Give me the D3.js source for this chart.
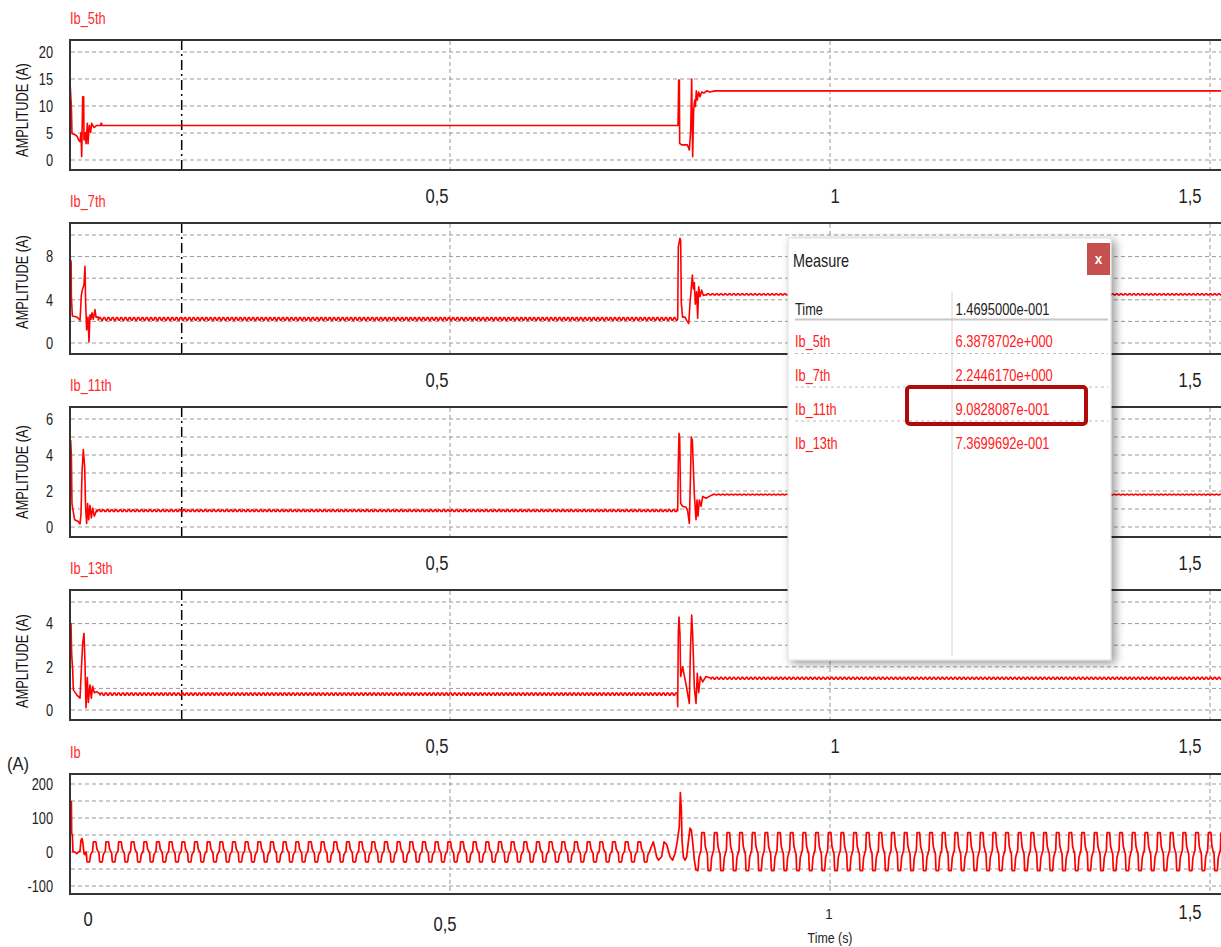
<!DOCTYPE html>
<html><head><meta charset="utf-8">
<script src="https://cdn.jsdelivr.net/npm/d3@7"></script>
<style>
body{margin:0;background:#fff;overflow:hidden}
svg{display:block;font-family:"Liberation Sans",Arial,sans-serif}
</style></head>
<body><svg id="c" width="1221" height="947"></svg>
<script>
// ---------------- DATA ----------------
const panelNames = ["Ib_5th", "Ib_7th", "Ib_11th", "Ib_13th", "Ib"];
const xTickValues = [0.5, 1, 1.5];
const xTickLabels = ["0,5", "1", "1,5"];
const bottomTickValues = [0, 0.5, 1, 1.5];
const bottomTickLabels = ["0", "0,5", "1", "1,5"];
const xAxisTitle = "Time (s)";
const yAxisTitle = "AMPLITUDE (A)";
const ibUnit = "(A)";

const yTickLabels5th = [0, 5, 10, 15, 20];
const yGrid5th = [0, 5, 10, 15, 20];
const yTickLabels7th = [0, 4, 8];
const yGrid7th = [0, 2, 4, 6, 8, 10];
const yTickLabels11th = [0, 2, 4, 6];
const yGrid11th = [0, 1, 2, 3, 4, 5, 6];
const yTickLabels13th = [0, 2, 4];
const yGrid13th = [0, 1, 2, 3, 4, 5];
const yTickLabelsIb = [-100, 0, 100, 200];
const yGridIb = [-100, -50, 0, 50, 100, 150, 200];

// harmonic amplitude traces: [time s, amplitude A]
const h5Start = [[0,0],[0.0004,13.5],[0.0013,11.1],[0.0018,10.0],[0.0026,4.9],[0.0079,4.6],[0.0096,4.3],[0.0114,3.7],[0.0132,3.4],[0.0145,5.1],[0.0154,0.6],[0.0167,11.7],[0.018,11.7],[0.0184,3.7],[0.0202,5.1],[0.0211,3.0],[0.0228,6.8],[0.0237,3.0],[0.0254,6.4],[0.0272,5.1],[0.0285,6.8],[0.0316,6.0],[0.0351,6.4],[0.0405,6.4],[0.0408,6.8],[0.0417,6.8],[0.042,6.39]];
const h5Step = [[0.8,6.39],[0.8009,14.8],[0.8018,14.8],[0.8022,3.1],[0.8048,2.8],[0.8123,2.8],[0.8149,1.85],[0.8167,5.5],[0.818,15],[0.8193,0.6],[0.8206,9.3],[0.822,11.1],[0.823,9.9],[0.8241,12.8],[0.8254,11.1],[0.8272,12.6],[0.829,11.7],[0.8312,12.6],[0.8342,12.4],[0.8377,12.8],[0.842,12.6],[0.8485,12.8]];
const h7Start = [[0,0],[0.0002,7.8],[0.0015,7.5],[0.0018,4.3],[0.0031,2.5],[0.0092,2.4],[0.0132,2.1],[0.0149,4.4],[0.0162,4.9],[0.0184,5.4],[0.0197,7.1],[0.0206,3.7],[0.0219,1.2],[0.0237,2.4],[0.025,0.1],[0.0263,2.6],[0.0276,2.2],[0.0289,2.8],[0.0307,2.2],[0.0329,3.1],[0.0342,2.4],[0.0373,2.4]];
const h7Step = [[0.7996,2.2],[0.8004,8.9],[0.8026,9.7],[0.8035,9.5],[0.8044,3.7],[0.806,2.4],[0.8092,2.4],[0.8114,2.1],[0.8141,1.8],[0.8158,3.7],[0.8171,4.75],[0.8189,6.3],[0.8202,5.0],[0.8215,5.6],[0.8228,3.6],[0.8246,4.75],[0.8259,2.3],[0.8272,5.2],[0.829,4.3],[0.8311,4.9],[0.8333,4.4],[0.8377,4.5]];
const h11Start = [[0,0],[0.0009,4.8],[0.0018,4.0],[0.0026,1.3],[0.0035,1.05],[0.0061,0.4],[0.011,0.3],[0.0132,0.17],[0.0145,0.76],[0.0158,3.0],[0.0175,4.3],[0.0193,3.35],[0.0206,1.0],[0.0219,0.2],[0.0232,1.3],[0.0246,0.4],[0.0263,1.2],[0.0281,0.5],[0.0298,1.05],[0.032,0.6],[0.0351,0.94],[0.036,0.91]];
const h11Step = [[0.7996,0.9],[0.8004,3.5],[0.8013,5.2],[0.8022,5.0],[0.8035,1.3],[0.8061,1.15],[0.8105,1.1],[0.8127,0.9],[0.8149,0.2],[0.8162,2.4],[0.8175,5.0],[0.8189,4.8],[0.8202,3.3],[0.8215,1.8],[0.8237,0.4],[0.825,1.5],[0.8263,0.6],[0.8281,1.5],[0.8303,1.15],[0.8325,1.7],[0.8368,1.6],[0.8456,1.8]];
const h13Start = [[0,0],[0.0004,3.4],[0.0013,4.0],[0.0022,2.6],[0.0035,1.85],[0.0044,0.93],[0.0088,0.7],[0.0132,0.55],[0.0149,1.85],[0.0167,3.1],[0.0184,3.55],[0.0197,2.2],[0.0211,0.1],[0.0228,1.5],[0.0241,0.35],[0.0263,1.16],[0.0281,0.55],[0.0298,1.1],[0.032,0.8],[0.0351,0.85],[0.0395,0.74]];
const h13Step = [[0.7991,0.74],[0.7996,0.15],[0.8004,3.55],[0.8013,4.3],[0.8026,3.5],[0.8035,1.55],[0.8061,2.0],[0.8105,1.2],[0.8127,0.75],[0.8149,0.3],[0.8162,2.6],[0.818,4.4],[0.8193,3.5],[0.8215,1.0],[0.8237,0.3],[0.8254,1.7],[0.8272,0.8],[0.8294,1.55],[0.8325,1.3],[0.8368,1.55],[0.8434,1.47]];

// steady levels before / after the step at 0.8 s, and ripple amplitude
const steadyBefore = [6.39, 2.24, 0.91, 0.74];
const steadyAfter = [12.8, 4.5, 1.8, 1.47];
const rippleBefore = [0, 0.12, 0.05, 0.05];
const rippleAfter = [0, 0.06, 0.02, 0.04];
const rippleShape = [-1, 1, 1, -1];
const ripplePeriod = 0.0056;

// phase current Ib
const ibStart = [[0,0],[0.0004,148],[0.0013,118],[0.0018,148],[0.0022,55],[0.0031,50],[0.0039,0],[0.0066,0],[0.0088,-5],[0.011,0],[0.0132,3],[0.0145,35],[0.0158,40],[0.0171,25],[0.0184,-5],[0.0197,-8]];
const ibStep = [[0.7632,6],[0.7675,30],[0.7719,-14],[0.7741,-24],[0.7785,-14],[0.7816,30],[0.7851,22],[0.7895,-14],[0.7929,-24],[0.796,-5],[0.799,30],[0.8017,75],[0.8031,175],[0.8044,124],[0.8053,35],[0.807,-14],[0.8092,-24],[0.8114,-14],[0.8136,30],[0.8158,70],[0.8175,65],[0.8193,30],[0.8215,-24],[0.8237,-53]];
// one measured cycle of Ib (phase 0..1, normalised)
const ibCycleShape = [[0,0],[0.03,0.15],[0.07,0.9],[0.09,1],[0.28,1],[0.31,0.8],[0.36,0.3],[0.42,0.15],[0.47,0],[0.50,0],[0.53,-0.15],[0.57,-0.9],[0.59,-1],[0.78,-1],[0.81,-0.8],[0.86,-0.3],[0.92,-0.15],[0.97,0]];
const ibPeriod = 1 / 60;
const ibBefore = {origin: 0.0127, from: 0.0200, to: 0.7630, hi: 30, lo: -29};
const ibAfter = {origin: 0.8132, from: 0.8240, to: 1.52, hi: 57, lo: -55};

// measure window
const cursorTime = 0.14695;
const measureTitle = "Measure";
const measureTimeLabel = "Time";
const measureTimeValue = "1.4695000e-001";
const measureNames = ["Ib_5th", "Ib_7th", "Ib_11th", "Ib_13th"];
const measureValues = ["6.3878702e+000", "2.2446170e+000", "9.0828087e-001", "7.3699692e-001"];
const highlightRow = 2;

// ---------------- LAYOUT ----------------
const frames = [[40,170],[223,354],[407,537],[590,720],[774,894]];
const yDomains = [[-1.852,22.222],[-1.019,11.111],[-0.556,6.667],[-0.463,5.556],[-123.5,229.4]];
const yTickSets = [yTickLabels5th, yTickLabels7th, yTickLabels11th, yTickLabels13th, yTickLabelsIb];
const yGridSets = [yGrid5th, yGrid7th, yGrid11th, yGrid13th, yGridIb];
const ampLabelY = [110, 282, 472, 661];
const xLabelOffset = [-13, 5, -20];
const RED = "#ff0000";

const svg = d3.select("#c");
const x = d3.scaleLinear().domain([0, 1.5]).range([70, 1210]);
const xMax = x.invert(1230);

function T(sel, px, py, str, o = {}) {
  const t = sel.append("text")
    .attr("transform", `translate(${px},${py})${o.rot ? ` rotate(${o.rot})` : ""} scale(${o.sx ?? 0.8},1)`)
    .attr("font-size", o.size || 16)
    .attr("fill", o.fill || "#222")
    .attr("text-anchor", o.anchor || "start")
    .text(str);
  if (o.weight) t.attr("font-weight", o.weight);
  return t;
}

function steady(tFrom, tTo, level, amp) {
  const pts = [];
  const dt = ripplePeriod / rippleShape.length;
  for (let k = 0; tFrom + k * dt <= tTo; k++)
    pts.push([tFrom + k * dt, level + amp * rippleShape[k % rippleShape.length]]);
  pts.push([tTo, level]);
  return pts;
}

function repeatCycle(p) {
  const pts = [];
  let k = Math.floor((p.from - p.origin) / ibPeriod);
  while (true) {
    for (const [ph, v] of ibCycleShape) {
      const t = p.origin + (k + ph) * ibPeriod;
      if (t < p.from) continue;
      if (t > p.to) return pts;
      pts.push([t, v >= 0 ? v * p.hi : v * (-p.lo)]);
    }
    k++;
  }
}

const starts = [h5Start, h7Start, h11Start, h13Start];
const steps = [h5Step, h7Step, h11Step, h13Step];
const series = starts.map((s, i) => {
  const a = s[s.length - 1][0], b = steps[i][0][0];
  const c = steps[i][steps[i].length - 1][0];
  return s.concat(steady(a, b, steadyBefore[i], rippleBefore[i]), steps[i], steady(c, xMax, steadyAfter[i], rippleAfter[i]));
});
series.push(ibStart.concat(repeatCycle(ibBefore), ibStep, repeatCycle(ibAfter)));

const defs = svg.append("defs");
const sh = defs.append("filter").attr("id", "shadow").attr("x", "-10%").attr("y", "-10%").attr("width", "130%").attr("height", "130%");
sh.append("feDropShadow").attr("dx", 4).attr("dy", 3).attr("stdDeviation", 5).attr("flood-color", "#000").attr("flood-opacity", 0.4);

frames.forEach(([top, bot], i) => {
  const y = d3.scaleLinear().domain(yDomains[i]).range([bot, top]);
  const g = svg.append("g");
  defs.append("clipPath").attr("id", "clip" + i).append("rect")
    .attr("x", 70).attr("y", top).attr("width", 1160).attr("height", bot - top);

  // horizontal grid
  g.selectAll("line.hg").data(yGridSets[i]).join("line")
    .attr("x1", 71).attr("x2", 1230).attr("y1", d => y(d)).attr("y2", d => y(d))
    .attr("stroke", "#9a9a9a").attr("stroke-width", 1).attr("stroke-dasharray", "4,3");
  // vertical grid
  g.selectAll("line.vg").data(xTickValues).join("line")
    .attr("x1", d => x(d)).attr("x2", d => x(d)).attr("y1", top + 1).attr("y2", bot - 1)
    .attr("stroke", "#9a9a9a").attr("stroke-width", 1).attr("stroke-dasharray", "4,3");
  // cursor
  if (i < 4) {
    g.append("line").attr("x1", x(cursorTime)).attr("x2", x(cursorTime)).attr("y1", top).attr("y2", bot)
      .attr("stroke", "#000").attr("stroke-width", 1.5).attr("stroke-dasharray", "10,4,2,4");
  }
  // data
  g.append("path").datum(series[i]).attr("clip-path", `url(#clip${i})`)
    .attr("d", d3.line().x(d => x(d[0])).y(d => y(d[1])))
    .attr("fill", "none").attr("stroke", RED).attr("stroke-width", i === 4 ? 1.7 : 1.6)
    .attr("stroke-linejoin", "round");
  // frame
  g.append("path").attr("d", `M1230,${top}H70V${bot}H1230`)
    .attr("fill", "none").attr("stroke", "#333").attr("stroke-width", 2);

  // y tick labels
  yTickSets[i].forEach(v => T(g, 53, y(v) + 5.8, String(v), {anchor: "end", size: 16, sx: 0.8, fill: "#222"}));
  // title
  T(g, 70, top - 16, panelNames[i], {size: 16, sx: 0.8, fill: "#ff2a2a"});

  if (i < 4) {
    T(g, 28, ampLabelY[i], yAxisTitle, {rot: -90, anchor: "middle", size: 16, sx: 0.8, fill: "#111"});
    xTickValues.forEach((v, k) => T(g, x(v) + xLabelOffset[k], bot + 33, xTickLabels[k], {anchor: "middle", size: 19.5, sx: 0.85, fill: "#222"}));
  } else {
    T(g, 7, 770, ibUnit, {size: 18, sx: 0.92, fill: "#222"});
    const bx = [18, -5, -1, -20], by = [926, 931, 919, 919], bs = [19.5, 19.5, 15.5, 19.5];
    bottomTickValues.forEach((v, k) => T(g, x(v) + bx[k], by[k], bottomTickLabels[k], {anchor: "middle", size: bs[k], sx: 0.85, fill: "#222"}));
    T(g, x(1), 943, xAxisTitle, {anchor: "middle", size: 15.5, sx: 0.8, fill: "#222"});
  }
});

// ---------------- MEASURE WINDOW ----------------
const m = svg.append("g");
m.append("rect").attr("x", 788).attr("y", 238).attr("width", 323).attr("height", 422)
  .attr("fill", "#fff").attr("stroke", "#dcdcdc").attr("stroke-width", 1).attr("filter", "url(#shadow)");
T(m, 793, 267, measureTitle, {size: 18.5, sx: 0.78, fill: "#222"});
m.append("rect").attr("x", 1087).attr("y", 243).attr("width", 23).attr("height", 32).attr("fill", "#c65050");
T(m, 1098.5, 264, "x", {anchor: "middle", size: 15, sx: 0.9, fill: "#fff", weight: "bold"});

m.append("line").attr("x1", 952).attr("x2", 952).attr("y1", 292).attr("y2", 656).attr("stroke", "#d4d4d4").attr("stroke-width", 1);
m.append("line").attr("x1", 795).attr("x2", 1108).attr("y1", 319.5).attr("y2", 319.5).attr("stroke", "#c8c8c8").attr("stroke-width", 2);
T(m, 795, 315, measureTimeLabel, {size: 17, sx: 0.75, fill: "#222"});
T(m, 955.5, 315, measureTimeValue, {size: 17, sx: 0.76, fill: "#222"});
const rowY = [347, 380.5, 414.5, 448.5];
measureNames.forEach((n, k) => {
  T(m, 795, rowY[k], n, {size: 17, sx: 0.75, fill: "#ff2020"});
  T(m, 955.5, rowY[k], measureValues[k], {size: 17, sx: 0.76, fill: "#ff2020"});
  if (k < measureNames.length - 1)
    m.append("line").attr("x1", 795).attr("x2", 1108).attr("y1", rowY[k] + 6.5).attr("y2", rowY[k] + 6.5)
      .attr("stroke", "#bcbcbc").attr("stroke-width", 1).attr("stroke-dasharray", "3,3");
});
m.append("rect").attr("x", 907).attr("y", rowY[highlightRow] - 27.5).attr("width", 179).attr("height", 37)
  .attr("rx", 3).attr("fill", "none").attr("stroke", "#b00a0a").attr("stroke-width", 4);
</script></body></html>
